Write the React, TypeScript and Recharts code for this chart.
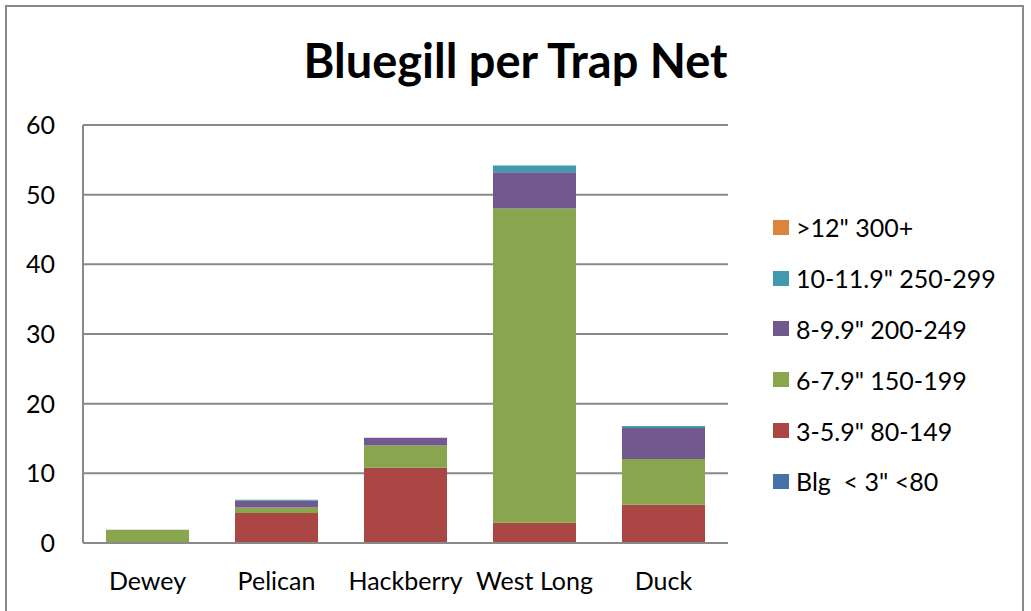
import { BarChart, Bar, XAxis, YAxis, CartesianGrid } from 'recharts';

// Lakes sampled
const lakes = ['Dewey', 'Pelican', 'Hackberry', 'West Long', 'Duck'];

// Bluegill per trap net, by length class
const under3 = [0, 0, 0, 0, 0];
const len3to6 = [0, 4.3, 10.8, 2.9, 5.5];
const len6to8 = [1.9, 0.8, 3.2, 45.1, 6.55];
const len8to10 = [0, 0.95, 1.1, 5.2, 4.45];
const len10to12 = [0, 0.15, 0, 1.0, 0.3];
const over12 = [0, 0, 0, 0, 0];

const yTicks = [0, 10, 20, 30, 40, 50, 60];

const series = [
  { key: 'under3', name: 'Blg  < 3" <80', color: '#4572A7' },
  { key: 'len3to6', name: '3-5.9" 80-149', color: '#AA4643' },
  { key: 'len6to8', name: '6-7.9" 150-199', color: '#89A54E' },
  { key: 'len8to10', name: '8-9.9" 200-249', color: '#71588F' },
  { key: 'len10to12', name: '10-11.9" 250-299', color: '#4198AF' },
  { key: 'over12', name: '>12" 300+', color: '#DB843D' },
];

const data = lakes.map((lake, i) => ({
  lake,
  under3: under3[i],
  len3to6: len3to6[i],
  len6to8: len6to8[i],
  len8to10: len8to10[i],
  len10to12: len10to12[i],
  over12: over12[i],
}));

const FONT = 'Lato, "Open Sans", sans-serif';
const GRID = '#898989';

// legend lists the top of the stack first
function SizeLegend() {
  return (
    <div
      style={{
        position: 'absolute',
        left: 773,
        top: 202,
        fontFamily: FONT,
        fontSize: 25,
        color: '#000',
      }}
    >
      {[...series].reverse().map((s) => (
        <div
          key={s.key}
          style={{ display: 'flex', alignItems: 'center', height: 50.8, whiteSpace: 'pre' }}
        >
          <span
            style={{ display: 'inline-block', width: 16, height: 15, background: s.color, marginRight: 7 }}
          />
          <span>{s.name}</span>
        </div>
      ))}
    </div>
  );
}

export default function App() {
  return (
    <div
      style={{
        position: 'fixed',
        left: 0,
        top: 0,
        width: 1031,
        height: 611,
        overflow: 'hidden',
        background: '#fff',
      }}
    >
      <div
        style={{
          position: 'absolute',
          left: 5,
          top: 5,
          width: 1019,
          height: 700,
          border: '2px solid #8a8a8a',
          boxSizing: 'border-box',
        }}
      />
      <div
        style={{
          position: 'absolute',
          left: 0,
          width: 1031,
          top: 32,
          textAlign: 'center',
          fontFamily: FONT,
          fontWeight: 700,
          fontSize: 47,
          color: '#000',
        }}
      >
        Bluegill per Trap Net
      </div>
      <div style={{ position: 'absolute', left: 0, top: 0 }}>
        <BarChart
          width={1031}
          height={611}
          data={data}
          margin={{ top: 125, right: 303, bottom: 0, left: 0 }}
        >
          <CartesianGrid vertical={false} stroke={GRID} strokeWidth={2} />
          <XAxis
            dataKey="lake"
            height={68}
            tickLine={false}
            tickSize={0}
            tickMargin={29}
            axisLine={{ stroke: GRID, strokeWidth: 2 }}
            tick={{ fill: '#000', fontSize: 25, fontFamily: FONT }}
          />
          <YAxis
            width={83}
            domain={[0, 60]}
            ticks={yTicks}
            tickLine={false}
            tickSize={0}
            tickMargin={28}
            axisLine={{ stroke: GRID, strokeWidth: 2 }}
            tick={{ fill: '#000', fontSize: 25, fontFamily: FONT }}
          />
          {series.map((s) => (
            <Bar
              key={s.key}
              dataKey={s.key}
              name={s.name}
              stackId="a"
              fill={s.color}
              barSize={83}
              isAnimationActive={false}
            />
          ))}
        </BarChart>
      </div>
      <SizeLegend />
    </div>
  );
}
